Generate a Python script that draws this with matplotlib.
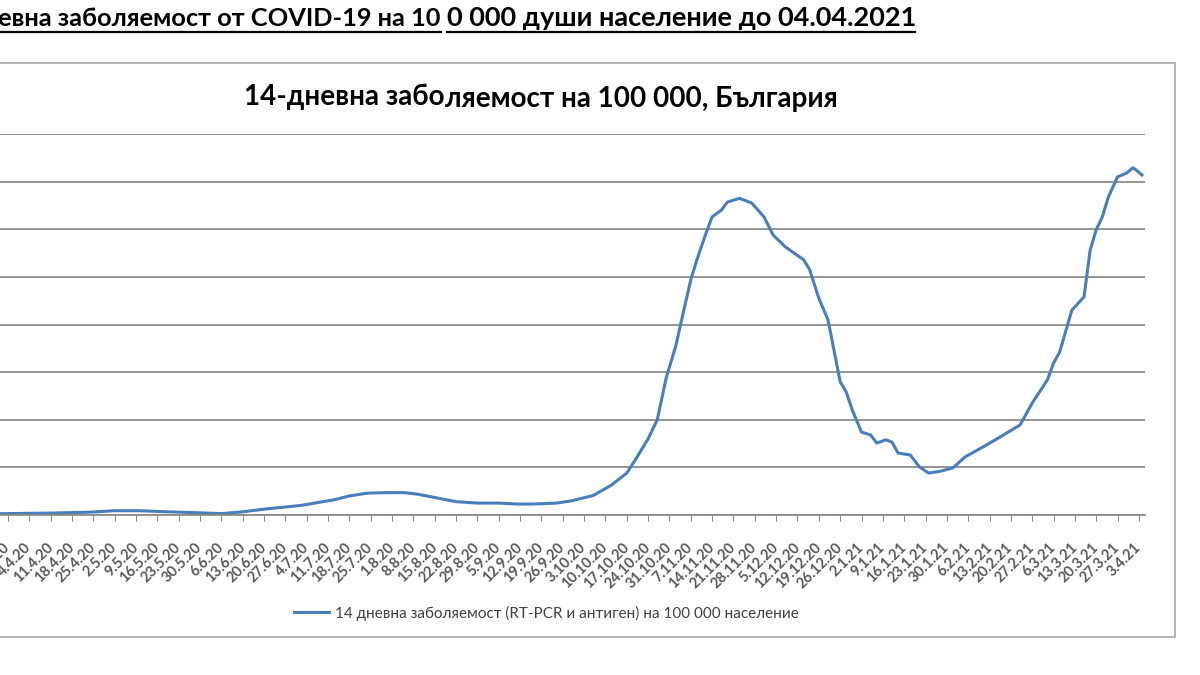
import matplotlib.pyplot as plt
from matplotlib.lines import Line2D
from matplotlib.patches import Rectangle
import pandas as pd

plt.rcParams['font.family'] = ['Lato', 'DejaVu Sans']

# 14-day incidence per 100 000
dates = ['2020-03-18', '2020-03-28', '2020-04-11', '2020-04-24', '2020-05-02', '2020-05-10',
         '2020-05-18', '2020-05-28', '2020-06-06', '2020-06-12', '2020-06-21', '2020-07-02',
         '2020-07-13', '2020-07-18', '2020-07-24', '2020-07-31', '2020-08-05', '2020-08-09',
         '2020-08-14', '2020-08-22', '2020-08-29', '2020-09-05', '2020-09-11', '2020-09-16',
         '2020-09-24', '2020-09-29', '2020-10-06', '2020-10-12', '2020-10-17', '2020-10-20',
         '2020-10-24', '2020-10-27', '2020-10-30', '2020-11-02', '2020-11-04', '2020-11-07',
         '2020-11-09', '2020-11-12', '2020-11-14', '2020-11-17', '2020-11-19', '2020-11-23',
         '2020-11-27', '2020-12-01', '2020-12-04', '2020-12-08', '2020-12-14', '2020-12-16',
         '2020-12-19', '2020-12-22', '2020-12-26', '2020-12-28', '2020-12-30', '2021-01-02',
         '2021-01-05', '2021-01-07', '2021-01-10', '2021-01-12', '2021-01-14', '2021-01-18',
         '2021-01-21', '2021-01-24', '2021-01-28', '2021-02-01', '2021-02-05', '2021-02-12',
         '2021-02-16', '2021-02-23', '2021-02-27', '2021-03-04', '2021-03-06', '2021-03-08',
         '2021-03-12', '2021-03-16', '2021-03-18', '2021-03-20', '2021-03-22', '2021-03-24',
         '2021-03-27', '2021-03-30', '2021-04-01', '2021-04-02', '2021-04-04']
values = [2, 3, 4, 6, 9, 9,
          7, 5, 3, 6, 13, 20,
          32, 40, 46, 47, 47, 44,
          38, 28, 25, 25, 23, 23,
          25, 30, 41, 63, 88, 118,
          160, 200, 290, 353, 410, 494,
          536, 592, 626, 640, 657, 665,
          655, 626, 588, 563, 536, 515,
          455, 410, 280, 258, 220, 174,
          168, 151, 158, 153, 130, 126,
          101, 88, 92, 99, 122, 147,
          162, 189, 235, 284, 319, 342,
          430, 458, 556, 599, 626, 668,
          710, 718, 729, 725, 714]

tick_dates = pd.date_range('2020-03-28', '2021-04-03', freq='7D')
tick_labels = [f'{d.day}.{d.month}.{d.year % 100}' for d in tick_dates]
y_ticks = [0, 100, 200, 300, 400, 500, 600, 700, 800]

header_left = 'евна заболяемост от COVID-19 на 10'
header_right = '0 000 души население до 04.04.2021'
title_left = '14-дневна забо'
title_right = 'ляемост на 100 000, България'
legend_label = '14 дневна заболяемост (RT-PCR и антиген) на 100 000 население'

W, H = 1200, 675
fig = plt.figure(figsize=(12, 6.75), dpi=100)

# chart area frame (left side is cropped in the source)
fig.add_artist(Rectangle((-0.01, 1 - 637 / H), 1175 / W + 0.01, (637 - 63) / H,
                         transform=fig.transFigure, fill=False, ec='#a6a6a6', lw=1.2))

ax = fig.add_axes([-22.5 / W, 1 - 515 / H, 1167.5 / W, 381 / H])
x = pd.to_datetime(dates)
ax.plot(x, values, color='#4a7ebb', lw=2.2, label=legend_label)

day0 = pd.Timestamp('2020-03-28')
ax.set_xlim(day0 - pd.Timedelta(days=10), day0 + pd.Timedelta(days=373))
ax.set_ylim(0, 800)
ax.set_yticks(y_ticks)
ax.tick_params(axis='y', left=False, labelleft=False)
ax.yaxis.grid(True, color='#8c8c8c', lw=1.3)
ax.set_axisbelow(True)
for s in ['top', 'right', 'left']:
    ax.spines[s].set_visible(False)
ax.spines['bottom'].set_color('#8c8c8c')
ax.spines['bottom'].set_linewidth(1.3)

ax.set_xticks(tick_dates)
ax.set_xticklabels(tick_labels, rotation=45, ha='right', va='center',
                   rotation_mode='anchor', fontsize=10.5, fontweight='bold', color='#595959')
ax.tick_params(axis='x', direction='out', length=4, color='#8c8c8c', pad=18)

ax.legend(loc='center', bbox_to_anchor=(546 / W, 1 - 613 / H), bbox_transform=fig.transFigure,
          frameon=False, fontsize=11, handlelength=2.3, handletextpad=0.4,
          labelcolor='#404040')

# headers, spliced as in the source image
hy = 1 - 18 / H
fig.text(441 / W, hy, header_left, ha='right', va='center', fontsize=18.3, fontweight='bold')
fig.text(447 / W, hy, header_right, ha='left', va='center', fontsize=19.5, fontweight='bold')
uy = 1 - 32 / H
fig.add_artist(Line2D([0, 441 / W], [uy, uy], transform=fig.transFigure, color='black', lw=1.6))
fig.add_artist(Line2D([447 / W, 915 / W], [uy, uy], transform=fig.transFigure, color='black', lw=1.6))

fig.text(445 / W, 1 - 97 / H, title_left, ha='right', va='center', fontsize=20, fontweight='bold')
fig.text(445 / W, 1 - 99 / H, title_right, ha='left', va='center', fontsize=20, fontweight='bold')

fig.savefig('out.png', dpi=100)
